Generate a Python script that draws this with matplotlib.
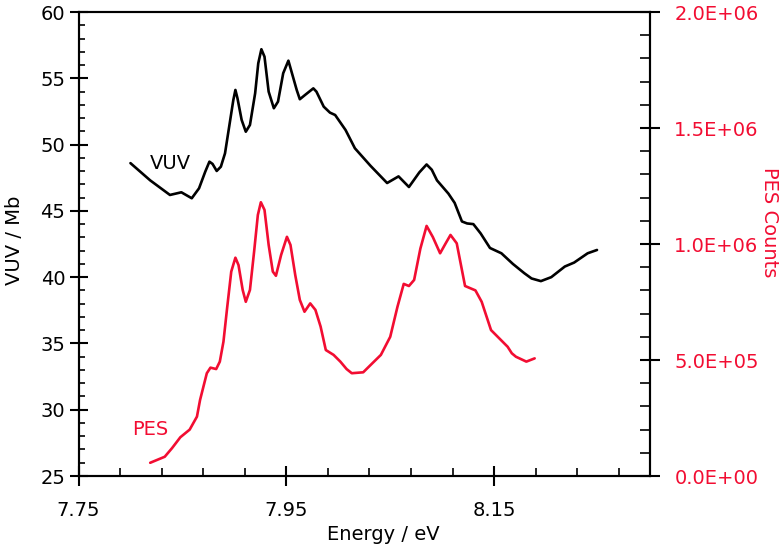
import numpy as np
import matplotlib.pyplot as plt
from matplotlib.ticker import MultipleLocator, FuncFormatter

# VUV absorption (Mb) vs energy (eV)
vuv_e = [7.800, 7.819, 7.838, 7.849, 7.859, 7.866, 7.872, 7.876, 7.879, 7.883,
         7.887, 7.891, 7.895, 7.899, 7.901, 7.903, 7.907, 7.911, 7.915, 7.920,
         7.923, 7.926, 7.929, 7.933, 7.938, 7.942, 7.947, 7.952, 7.955, 7.960,
         7.963, 7.968, 7.976, 7.979, 7.986, 7.992, 7.997, 8.007, 8.016, 8.031,
         8.047, 8.058, 8.068, 8.078, 8.085, 8.090, 8.095, 8.106, 8.112, 8.119,
         8.124, 8.130, 8.137, 8.146, 8.157, 8.168, 8.179, 8.186, 8.195, 8.205,
         8.218, 8.227, 8.240, 8.249]
vuv = [48.6, 47.3, 46.2, 46.4, 45.95, 46.7, 47.96, 48.71, 48.54, 48.01,
       48.33, 49.34, 51.35, 53.36, 54.12, 53.49, 51.86, 50.97, 51.48, 53.87,
       56.13, 57.19, 56.63, 53.99, 52.74, 53.24, 55.38, 56.33, 55.50, 54.12,
       53.42, 53.74, 54.24, 53.99, 52.86, 52.41, 52.23, 51.10, 49.72, 48.40,
       47.1, 47.6, 46.8, 47.9, 48.5, 48.1, 47.3, 46.3, 45.6, 44.2,
       44.05, 44.0, 43.3, 42.2, 41.8, 41.0, 40.3, 39.9, 39.7, 40.0,
       40.8, 41.1, 41.8, 42.05]

# PES counts vs energy (eV)
pes_e = [7.819, 7.833, 7.840, 7.848, 7.857, 7.864, 7.867, 7.8735, 7.877, 7.8825,
         7.886, 7.8895, 7.893, 7.897, 7.901, 7.904, 7.908, 7.911, 7.915, 7.919,
         7.9226, 7.9255, 7.929, 7.933, 7.937, 7.940, 7.945, 7.9506, 7.954, 7.9586,
         7.963, 7.9675, 7.973, 7.978, 7.983, 7.988, 7.9955, 8.002, 8.008, 8.013,
         8.024, 8.031, 8.041, 8.050, 8.057, 8.063, 8.068, 8.073, 8.079, 8.085,
         8.091, 8.098, 8.103, 8.108, 8.114, 8.122, 8.132, 8.138, 8.147, 8.155,
         8.163, 8.167, 8.171, 8.181, 8.189]
pes = [0.057e6, 0.083e6, 0.12e6, 0.167e6, 0.20e6, 0.256e6, 0.328e6, 0.443e6, 0.467e6, 0.461e6,
       0.493e6, 0.579e6, 0.723e6, 0.881e6, 0.941e6, 0.909e6, 0.802e6, 0.751e6, 0.802e6, 0.967e6,
       1.125e6, 1.180e6, 1.147e6, 0.996e6, 0.881e6, 0.863e6, 0.953e6, 1.031e6, 0.996e6, 0.866e6,
       0.759e6, 0.708e6, 0.744e6, 0.716e6, 0.644e6, 0.543e6, 0.522e6, 0.493e6, 0.461e6, 0.443e6,
       0.447e6, 0.478e6, 0.522e6, 0.60e6, 0.73e6, 0.828e6, 0.819e6, 0.845e6, 0.98e6, 1.078e6,
       1.03e6, 0.96e6, 1.00e6, 1.039e6, 1.003e6, 0.819e6, 0.80e6, 0.751e6, 0.629e6, 0.593e6,
       0.557e6, 0.529e6, 0.514e6, 0.493e6, 0.507e6]

red = "#F20D32"
fs = 14

plt.rcParams['font.family'] = ['DejaVu Sans']
fig = plt.figure(figsize=(7.83, 5.46), dpi=100)
ax = fig.add_axes([78.5/783, 70/546, (650-78.5)/783, (476-12)/546])
ax2 = ax.twinx()

ax.plot(vuv_e, vuv, color="black", linewidth=1.9,
        solid_capstyle='round', solid_joinstyle='round')
ax2.plot(pes_e, pes, color=red, linewidth=1.9,
         solid_capstyle='round', solid_joinstyle='round')

ax.set_xlim(7.75, 8.30)
ax.set_ylim(25, 60)
ax2.set_ylim(0, 2.0e6)

ax.xaxis.set_major_locator(MultipleLocator(0.2, offset=0.15))
ax.xaxis.set_minor_locator(MultipleLocator(0.04, offset=0.03))
ax.yaxis.set_major_locator(MultipleLocator(5))
ax.yaxis.set_minor_locator(MultipleLocator(1))
ax2.yaxis.set_major_locator(MultipleLocator(5e5))
ax2.yaxis.set_minor_locator(MultipleLocator(1e5))
ax.xaxis.set_major_formatter(FuncFormatter(lambda v, p: f"{v:.2f}"))
ax2.yaxis.set_major_formatter(FuncFormatter(lambda v, p: f"{v:.1E}"))

for s in ax.spines.values():
    s.set_linewidth(1.5)
for s in ax2.spines.values():
    s.set_linewidth(1.5)

ax.tick_params(axis='x', which='major', direction='inout', length=14, width=1.5,
               labelsize=fs, pad=11, top=False)
ax.tick_params(axis='x', which='minor', direction='in', length=6, width=1.2, top=False)
ax.tick_params(axis='y', which='major', direction='inout', length=13, width=1.5,
               labelsize=fs, pad=3)
ax.tick_params(axis='y', which='minor', direction='in', length=4, width=1.2)
ax2.tick_params(axis='y', which='major', direction='inout', length=15, width=1.5,
                labelsize=fs, labelcolor=red, pad=10)
ax2.tick_params(axis='y', which='minor', direction='in', length=7, width=1.2)

ax.text(7.819, 48.6, "VUV", fontsize=fs, color="black", ha='left', va='center')
ax.text(7.802, 28.5, "PES", fontsize=fs, color=red, ha='left', va='center')

fig.text(383.5/783, 1 - 535/546, "Energy / eV", fontsize=fs, ha='center', va='center')
fig.text(15/783, 1 - 240/546, "VUV / Mb", fontsize=fs, rotation=90, ha='center', va='center')
fig.text(770/783, 1 - 222/546, "PES Counts", fontsize=fs, color=red, rotation=270,
         ha='center', va='center')

fig.savefig("out.png", dpi=100)
